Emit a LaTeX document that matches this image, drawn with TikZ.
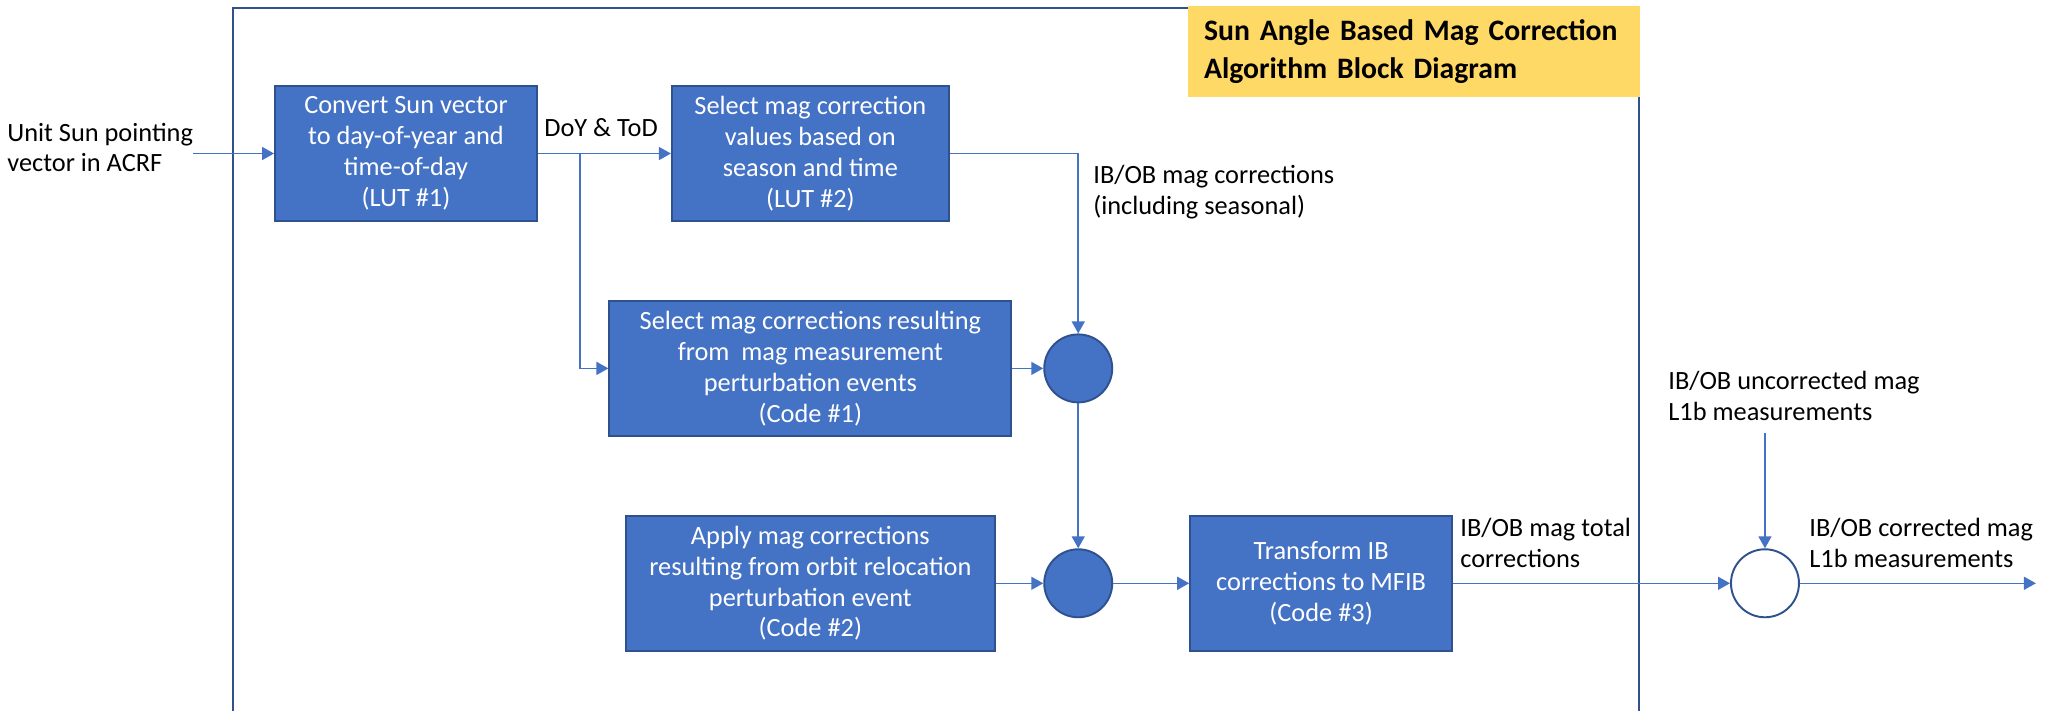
\documentclass[tikz,border=0pt]{standalone}
\usepackage{fontspec}
\setmainfont{Carlito}
\usetikzlibrary{positioning,arrows.meta,calc}
\definecolor{boxblue}{HTML}{4472C4}
\definecolor{edgeblue}{HTML}{2F528F}
\definecolor{titlegold}{HTML}{FFD966}

\begin{document}
\begin{tikzpicture}[
        x=0.02cm, y=-0.02cm,
        every node/.style={font=\fontsize{15}{17.6}\selectfont, align=center},
        block/.style={draw=edgeblue, fill=boxblue, line width=1.1pt, text=white, minimum height=2.7cm, inner sep=2pt},
        sumpt/.style={circle, draw=edgeblue, fill=boxblue, line width=1.1pt, minimum size=1.36cm, inner sep=0pt},
        lbl/.style={align=left, inner sep=0pt},
        arr/.style={-{Triangle[length=0.24cm, width=0.26cm]}, line width=0.85pt, draw=boxblue},
        frame/.style={draw=edgeblue, line width=1.4pt}
      ]
        \useasboundingbox (0,0) rectangle (2049,711);
        % outer frame, open at the bottom
        \draw[frame] (233,711) |- (1639,8) -- (1639,711);
        \node[fill=titlegold, inner xsep=0.32cm, text width=8.4cm, minimum height=1.82cm, align=left,
              font=\bfseries\fontsize{16.9}{21.6}\selectfont] (title) at (1414,51.5)
              {\mbox{Sun Angle Based Mag Correction}\\Algorithm Block Diagram};
        \node[block, minimum width=5.24cm] (conv) at (406,153.5) {Convert Sun vector\\to day-of-year and\\time-of-day\\(LUT \#1)};
        \node[block, minimum width=5.54cm, right=2.66cm of conv] (season) {Select mag correction\\values based on\\season and time\\(LUT \#2)};
        \node[block, minimum width=8.04cm, below=1.56cm of season] (perturb) {Select mag corrections resulting\\from\ \ mag measurement\\perturbation events\\(Code \#1)};
        \node[block, minimum width=7.38cm, below=1.56cm of perturb] (orbit) {Apply mag corrections\\resulting from orbit relocation\\perturbation event\\(Code \#2)};
        \node[sumpt, right=0.62cm of perturb] (sum1) {};
        \node[sumpt] (sum2) at (sum1 |- orbit) {};
        \node[block, minimum width=5.24cm, right=1.52cm of sum2] (xform) {Transform IB\\corrections to MFIB\\(Code \#3)};
        \node[sumpt, fill=white, right=5.54cm of xform] (sum3) {};
        \node[lbl, anchor=west] (sunlbl) at (7,147.5) {Unit Sun pointing\\vector in ACRF};
        \node[lbl, anchor=west] (doy) at (544,128) {DoY \& ToD};
        \node[lbl, anchor=west] (corrlbl) at (1093,192.5) {IB/OB mag corrections\\(including seasonal)};
        \node[lbl, anchor=west] (totlbl) at (1460,542.5) {IB/OB mag total\\corrections};
        \node[lbl, anchor=west] (uncorlbl) at (1668,396) {IB/OB uncorrected mag\\L1b measurements};
        \node[lbl, anchor=west] (outlbl) at (1809,542.5) {IB/OB corrected mag\\L1b measurements};
        \coordinate (split) at ($(conv.east)!0.316!(season.west)$);
        \coordinate (uncin) at (sum3 |- 0,433);
        \coordinate (outend) at ($(sum3.east)+(236,0)$);
        \draw[arr] (sunlbl.east |- conv.west) -- (conv.west);
        \draw[arr] (conv.east) -- (season.west);
        \draw[arr] (split) |- (perturb.west);
        \draw[arr] (season.east) -| (sum1.north);
        \draw[arr] (perturb.east) -- (sum1.west);
        \draw[arr] (sum1.south) -- (sum2.north);
        \draw[arr] (orbit.east) -- (sum2.west);
        \draw[arr] (sum2.east) -- (xform.west);
        \draw[arr] (xform.east) -- (sum3.west);
        \draw[arr] (uncin) -- (sum3.north);
        \draw[arr] (sum3.east) -- (outend);
      \end{tikzpicture}
\end{document}
